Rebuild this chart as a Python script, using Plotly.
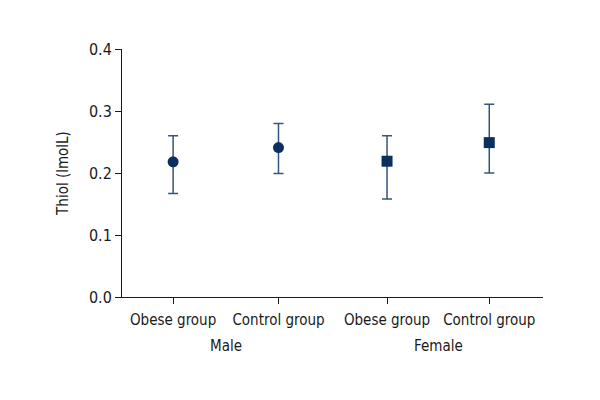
import plotly.graph_objects as go

categories = ["Obese group", "Control group", "Obese group", "Control group"]
groups = ["Male", "Female"]
x_pos = [0, 1, 2.03, 3]
means = [0.218, 0.241, 0.219, 0.249]
upper = [0.260, 0.280, 0.260, 0.311]
lower = [0.167, 0.199, 0.158, 0.200]
y_ticks = [0.0, 0.1, 0.2, 0.3, 0.4]
y_tick_text = ["0.0", "0.1", "0.2", "0.3", "0.4"]

FONT = "DejaVu Sans Condensed, Liberation Sans Narrow, sans-serif"
marker_col = "#0b2f5e"
err_col = "#34557c"

fig = go.Figure()
symbols = ["circle", "square"]
for g in range(2):
    idx = [2 * g, 2 * g + 1]
    fig.add_trace(go.Scatter(
        x=[x_pos[i] for i in idx],
        y=[means[i] for i in idx],
        mode="markers",
        marker=dict(symbol=symbols[g], size=11, color=marker_col),
        error_y=dict(
            type="data", symmetric=False,
            array=[upper[i] - means[i] for i in idx],
            arrayminus=[means[i] - lower[i] for i in idx],
            color=err_col, thickness=1.5, width=5,
        ),
        showlegend=False,
        name=groups[g],
    ))

for g, name in enumerate(groups):
    fig.add_annotation(
        x=(x_pos[2 * g] + x_pos[2 * g + 1]) / 2, y=0, xref="x", yref="paper",
        yanchor="middle", yshift=-49, text=name, showarrow=False,
        font=dict(family=FONT, size=15, color="#1a1a1a"),
    )

fig.update_layout(
    width=600, height=400,
    margin=dict(l=114, r=65, t=41, b=111),
    paper_bgcolor="white", plot_bgcolor="white",
    font=dict(family=FONT, size=15, color="#1a1a1a"),
    xaxis=dict(
        range=[-0.485, 3.51], tickmode="array", tickvals=x_pos, ticktext=categories,
        showgrid=False, zeroline=False, showline=True, linecolor="#1a1a1a", linewidth=1,
        ticks="outside", ticklen=6, tickcolor="#1a1a1a", tickfont=dict(size=15),
        ticklabelstandoff=3,
    ),
    yaxis=dict(
        range=[0, 0.4], tickmode="array", tickvals=y_ticks, ticktext=y_tick_text,
        showgrid=False, zeroline=False, showline=True, linecolor="#1a1a1a", linewidth=1,
        ticks="outside", ticklen=6, tickcolor="#1a1a1a", tickfont=dict(size=16),
        title=dict(text="Thiol (lmolL)", font=dict(size=15), standoff=16),
    ),
)

fig.write_html("out.html")
